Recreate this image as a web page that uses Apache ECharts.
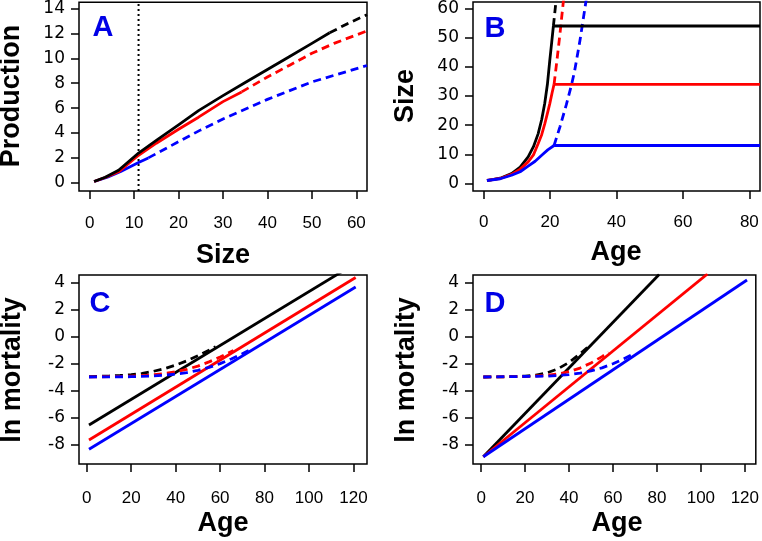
<!DOCTYPE html>
<html>
<head>
<meta charset="utf-8">
<script src="https://cdn.jsdelivr.net/npm/echarts@6/dist/echarts.min.js"></script>
<style>html,body{margin:0;padding:0;background:#fff;}#c{width:762px;height:541px;}</style>
</head>
<body>
<div id="c"></div>
<script>
// ---------- Panel A: Production vs Size ----------
const ticksA_x = [0, 10, 20, 30, 40, 50, 60];
const ticksA_y = [0, 2, 4, 6, 8, 10, 12, 14];
const cutoffSize = 11;
const prodBlackSolid = [[1,0.1],[3.5,0.45],[6.5,1.01],[11,2.39],[15,3.4],[20,4.65],[24.5,5.8],[30,7.0],[35,8.05],[40,9.1],[45,10.15],[50,11.2],[54,12.05]];
const prodBlackDash  = [[54,12.05],[58,12.78],[62.4,13.5]];
const prodRedSolid   = [[1,0.1],[3.5,0.42],[6.5,0.88],[11,2.21],[15,3.18],[20,4.3],[24.5,5.27],[30,6.52],[34.2,7.3]];
const prodRedDash    = [[34.2,7.3],[40,8.5],[45,9.45],[50,10.4],[55,11.2],[62.4,12.2]];
const prodBlueSolid  = [[1,0.1],[4,0.45],[7,0.9],[11,1.62],[13.2,2.0]];
const prodBlueDash   = [[13.2,2.0],[20,3.3],[25,4.25],[30,5.12],[40,6.7],[50,8.1],[62.4,9.42]];

// ---------- Panel B: Size vs Age ----------
const ticksB_x = [0, 20, 40, 60, 80];
const ticksB_y = [0, 10, 20, 30, 40, 50, 60];
const sizeBlackSolid = [[1,1],[5,1.8],[8.4,3.4],[11,5.6],[13.4,9.1],[15,12.6],[16.4,17],[17.5,22],[18.4,27.5],[19.2,34],[19.9,42],[20.5,48.5],[21,54]];
const sizeBlackFlat  = [[21,54],[83.2,54]];
const sizeBlackDash  = [[21,54],[21.6,60.5],[22.1,66]];
const sizeRedSolid   = [[1,1],[5,1.7],[8.4,3.1],[11,4.9],[13.4,7.4],[15,9.8],[16.4,13.6],[17.5,16.8],[18.4,20.4],[19.2,24],[19.9,27.3],[20.6,31],[21.2,34]];
const sizeRedFlat    = [[21.2,34],[83.2,34]];
const sizeRedDash    = [[21.2,34],[22,41.5],[23,51.5],[24,62.4],[24.2,64.5]];
const sizeBlueSolid  = [[1,1],[5,1.6],[8.4,2.8],[11,4.0],[13.4,5.9],[15.5,7.6],[17.4,9.6],[19.3,11.5],[21.2,13]];
const sizeBlueFlat   = [[21.2,13],[83.2,13]];
const sizeBlueDash   = [[21.2,13],[23,19.5],[24.9,27],[26.5,34],[27.4,38.6],[29,49],[30.8,62.4],[31,64]];

// ---------- Panel C: ln mortality vs Age ----------
const ticksCD_x = [0, 20, 40, 60, 80, 100, 120];
const ticksCD_y = [-8, -6, -4, -2, 0, 2, 4];
const mortCBlackSolid = [[1,-6.56],[121,5.44]];
const mortCRedSolid   = [[1,-7.68],[121,4.38]];
const mortCBlueSolid  = [[1,-8.37],[121,3.68]];
const mortCBlackDash  = [[1,-2.97],[10,-2.93],[15,-2.89],[20,-2.83],[25,-2.73],[30,-2.58],[35,-2.38],[40,-2.12],[45,-1.80],[50,-1.43],[55,-1.01],[58,-0.75]];
const mortCRedDash    = [[1,-2.99],[10,-2.98],[20,-2.94],[25,-2.90],[30,-2.84],[35,-2.75],[40,-2.62],[45,-2.44],[50,-2.19],[55,-1.88],[60,-1.52],[66,-1.03]];
const mortCBlueDash   = [[1,-3.0],[20,-2.98],[30,-2.92],[35,-2.87],[40,-2.79],[45,-2.68],[50,-2.51],[55,-2.29],[60,-2.01],[65,-1.66],[70,-1.27],[74,-0.93]];

// ---------- Panel D: ln mortality vs Age ----------
const mortDBlackSolid = [[1,-8.92],[81,4.6]];
const mortDRedSolid   = [[1,-8.92],[103,4.65]];
const mortDBlueSolid  = [[1,-8.92],[121,4.2]];
const mortDBlackDash  = [[1,-3.0],[10,-2.99],[15,-2.97],[20,-2.94],[25,-2.86],[30,-2.69],[35,-2.39],[40,-1.92],[45,-1.28],[49,-0.72]];
const mortDRedDash    = [[1,-3.0],[20,-2.97],[30,-2.88],[35,-2.78],[40,-2.61],[45,-2.34],[50,-1.96],[55,-1.49],[58,-1.17]];
const mortDBlueDash   = [[1,-3.0],[30,-2.94],[40,-2.83],[45,-2.72],[50,-2.55],[55,-2.32],[60,-2.02],[65,-1.64],[70,-1.22]];

const panelLetters = ['A', 'B', 'C', 'D'];
const xTitles = ['Size', 'Age', 'Age', 'Age'];
const yTitles = ['Production', 'Size', 'ln mortality', 'ln mortality'];

const FONT = '"Liberation Sans", Arial, sans-serif';
const YFONT = '"DejaVu Sans", "Liberation Sans", sans-serif';
const BLACK = '#000000', RED = '#ff0000', BLUE = '#0000ff';

const grids = [
  {left: 79, top: 1, width: 288, height: 190},
  {left: 473, top: 1, width: 287, height: 190},
  {left: 79, top: 275, width: 288, height: 189},
  {left: 473, top: 275, width: 287, height: 189}
].map(g => Object.assign(g, {show: true, borderColor: '#000', borderWidth: 1.5, backgroundColor: 'transparent', containLabel: false}));

function mkAxis(gi, min, max, ticks, margin, font) {
  return {
    type: 'value', gridIndex: gi, min: min, max: max,
    splitLine: {show: false},
    axisLine: {show: false, onZero: false},
    axisTick: {show: true, inside: false, length: 8, customValues: ticks, lineStyle: {color: '#000', width: 1.5}},
    axisLabel: {show: true, customValues: ticks, margin: margin, color: '#000', fontSize: 17, fontFamily: font},
  };
}

const xAxes = [
  mkAxis(0, -2.4, 62.4, ticksA_x, 24, FONT),
  mkAxis(1, -3.2, 83.2, ticksB_x, 23, FONT),
  mkAxis(2, -3.5, 126.1, ticksCD_x, 26, FONT),
  mkAxis(3, -3.7, 125, ticksCD_x, 26, FONT)
];
const yAxes = [
  mkAxis(0, -0.66, 14.5, ticksA_y, 14, YFONT),
  mkAxis(1, -2.6, 62.2, ticksB_y, 14, YFONT),
  mkAxis(2, -9.46, 4.57, ticksCD_y, 14, YFONT),
  mkAxis(3, -9.46, 4.57, ticksCD_y, 14, YFONT)
];

function line(gi, data, color, dash) {
  return {
    type: 'line', xAxisIndex: gi, yAxisIndex: gi, data: data,
    showSymbol: false, symbol: 'none', clip: true, smooth: false,
    lineStyle: {color: color, width: 2.8, type: dash ? [8, 5] : 'solid', cap: 'butt', join: 'round'},
    silent: true, animation: false
  };
}

const series = [
  // A
  {type: 'line', xAxisIndex: 0, yAxisIndex: 0, data: [[cutoffSize, -0.66], [cutoffSize, 14.5]], showSymbol: false, symbol: 'none',
   lineStyle: {color: '#000', width: 2, type: [2, 3]}, silent: true, animation: false},
  line(0, prodBlueDash, BLUE, true),
  line(0, prodRedDash, RED, true),
  line(0, prodBlackDash, BLACK, true),
  line(0, prodBlueSolid, BLUE, false),
  line(0, prodRedSolid, RED, false),
  line(0, prodBlackSolid, BLACK, false),
  // B
  line(1, sizeBlackDash, BLACK, true),
  line(1, sizeRedDash, RED, true),
  line(1, sizeBlueDash, BLUE, true),
  line(1, sizeBlackSolid, BLACK, false),
  line(1, sizeRedSolid, RED, false),
  line(1, sizeBlueSolid, BLUE, false),
  line(1, sizeBlackFlat, BLACK, false),
  line(1, sizeRedFlat, RED, false),
  line(1, sizeBlueFlat, BLUE, false),
  // C
  line(2, mortCBlackSolid, BLACK, false),
  line(2, mortCRedSolid, RED, false),
  line(2, mortCBlueSolid, BLUE, false),
  line(2, mortCBlackDash, BLACK, true),
  line(2, mortCRedDash, RED, true),
  line(2, mortCBlueDash, BLUE, true),
  // D
  line(3, mortDBlackSolid, BLACK, false),
  line(3, mortDRedSolid, RED, false),
  line(3, mortDBlueSolid, BLUE, false),
  line(3, mortDBlackDash, BLACK, true),
  line(3, mortDRedDash, RED, true),
  line(3, mortDBlueDash, BLUE, true)
];

const letterPos = [[103, 28], [495, 29], [100, 304], [495, 304]];
const xTitlePos = [[223, 256], [616, 253], [223, 524], [617, 524]];
const yTitlePos = [[12, 96], [406, 96], [13, 370], [407, 370]];

const graphics = [];
for (let i = 0; i < 4; i++) {
  graphics.push({type: 'text', x: letterPos[i][0], y: letterPos[i][1], silent: true,
    style: {text: panelLetters[i], fill: '#0000e6', font: 'bold 29px ' + FONT, textAlign: 'center', textVerticalAlign: 'middle'}});
  graphics.push({type: 'text', x: xTitlePos[i][0], y: xTitlePos[i][1], silent: true,
    style: {text: xTitles[i], fill: '#000', font: 'bold 27px ' + FONT, textAlign: 'center', textVerticalAlign: 'middle'}});
  graphics.push({type: 'text', x: yTitlePos[i][0], y: yTitlePos[i][1], rotation: Math.PI / 2, silent: true,
    style: {text: yTitles[i], fill: '#000', font: 'bold 27px ' + FONT, textAlign: 'center', textVerticalAlign: 'middle'}});
}

const chart = echarts.init(document.getElementById('c'), null, {renderer: 'canvas'});
chart.setOption({
  animation: false,
  backgroundColor: '#ffffff',
  grid: grids,
  xAxis: xAxes,
  yAxis: yAxes,
  series: series,
  graphic: graphics
});
</script>
</body>
</html>
